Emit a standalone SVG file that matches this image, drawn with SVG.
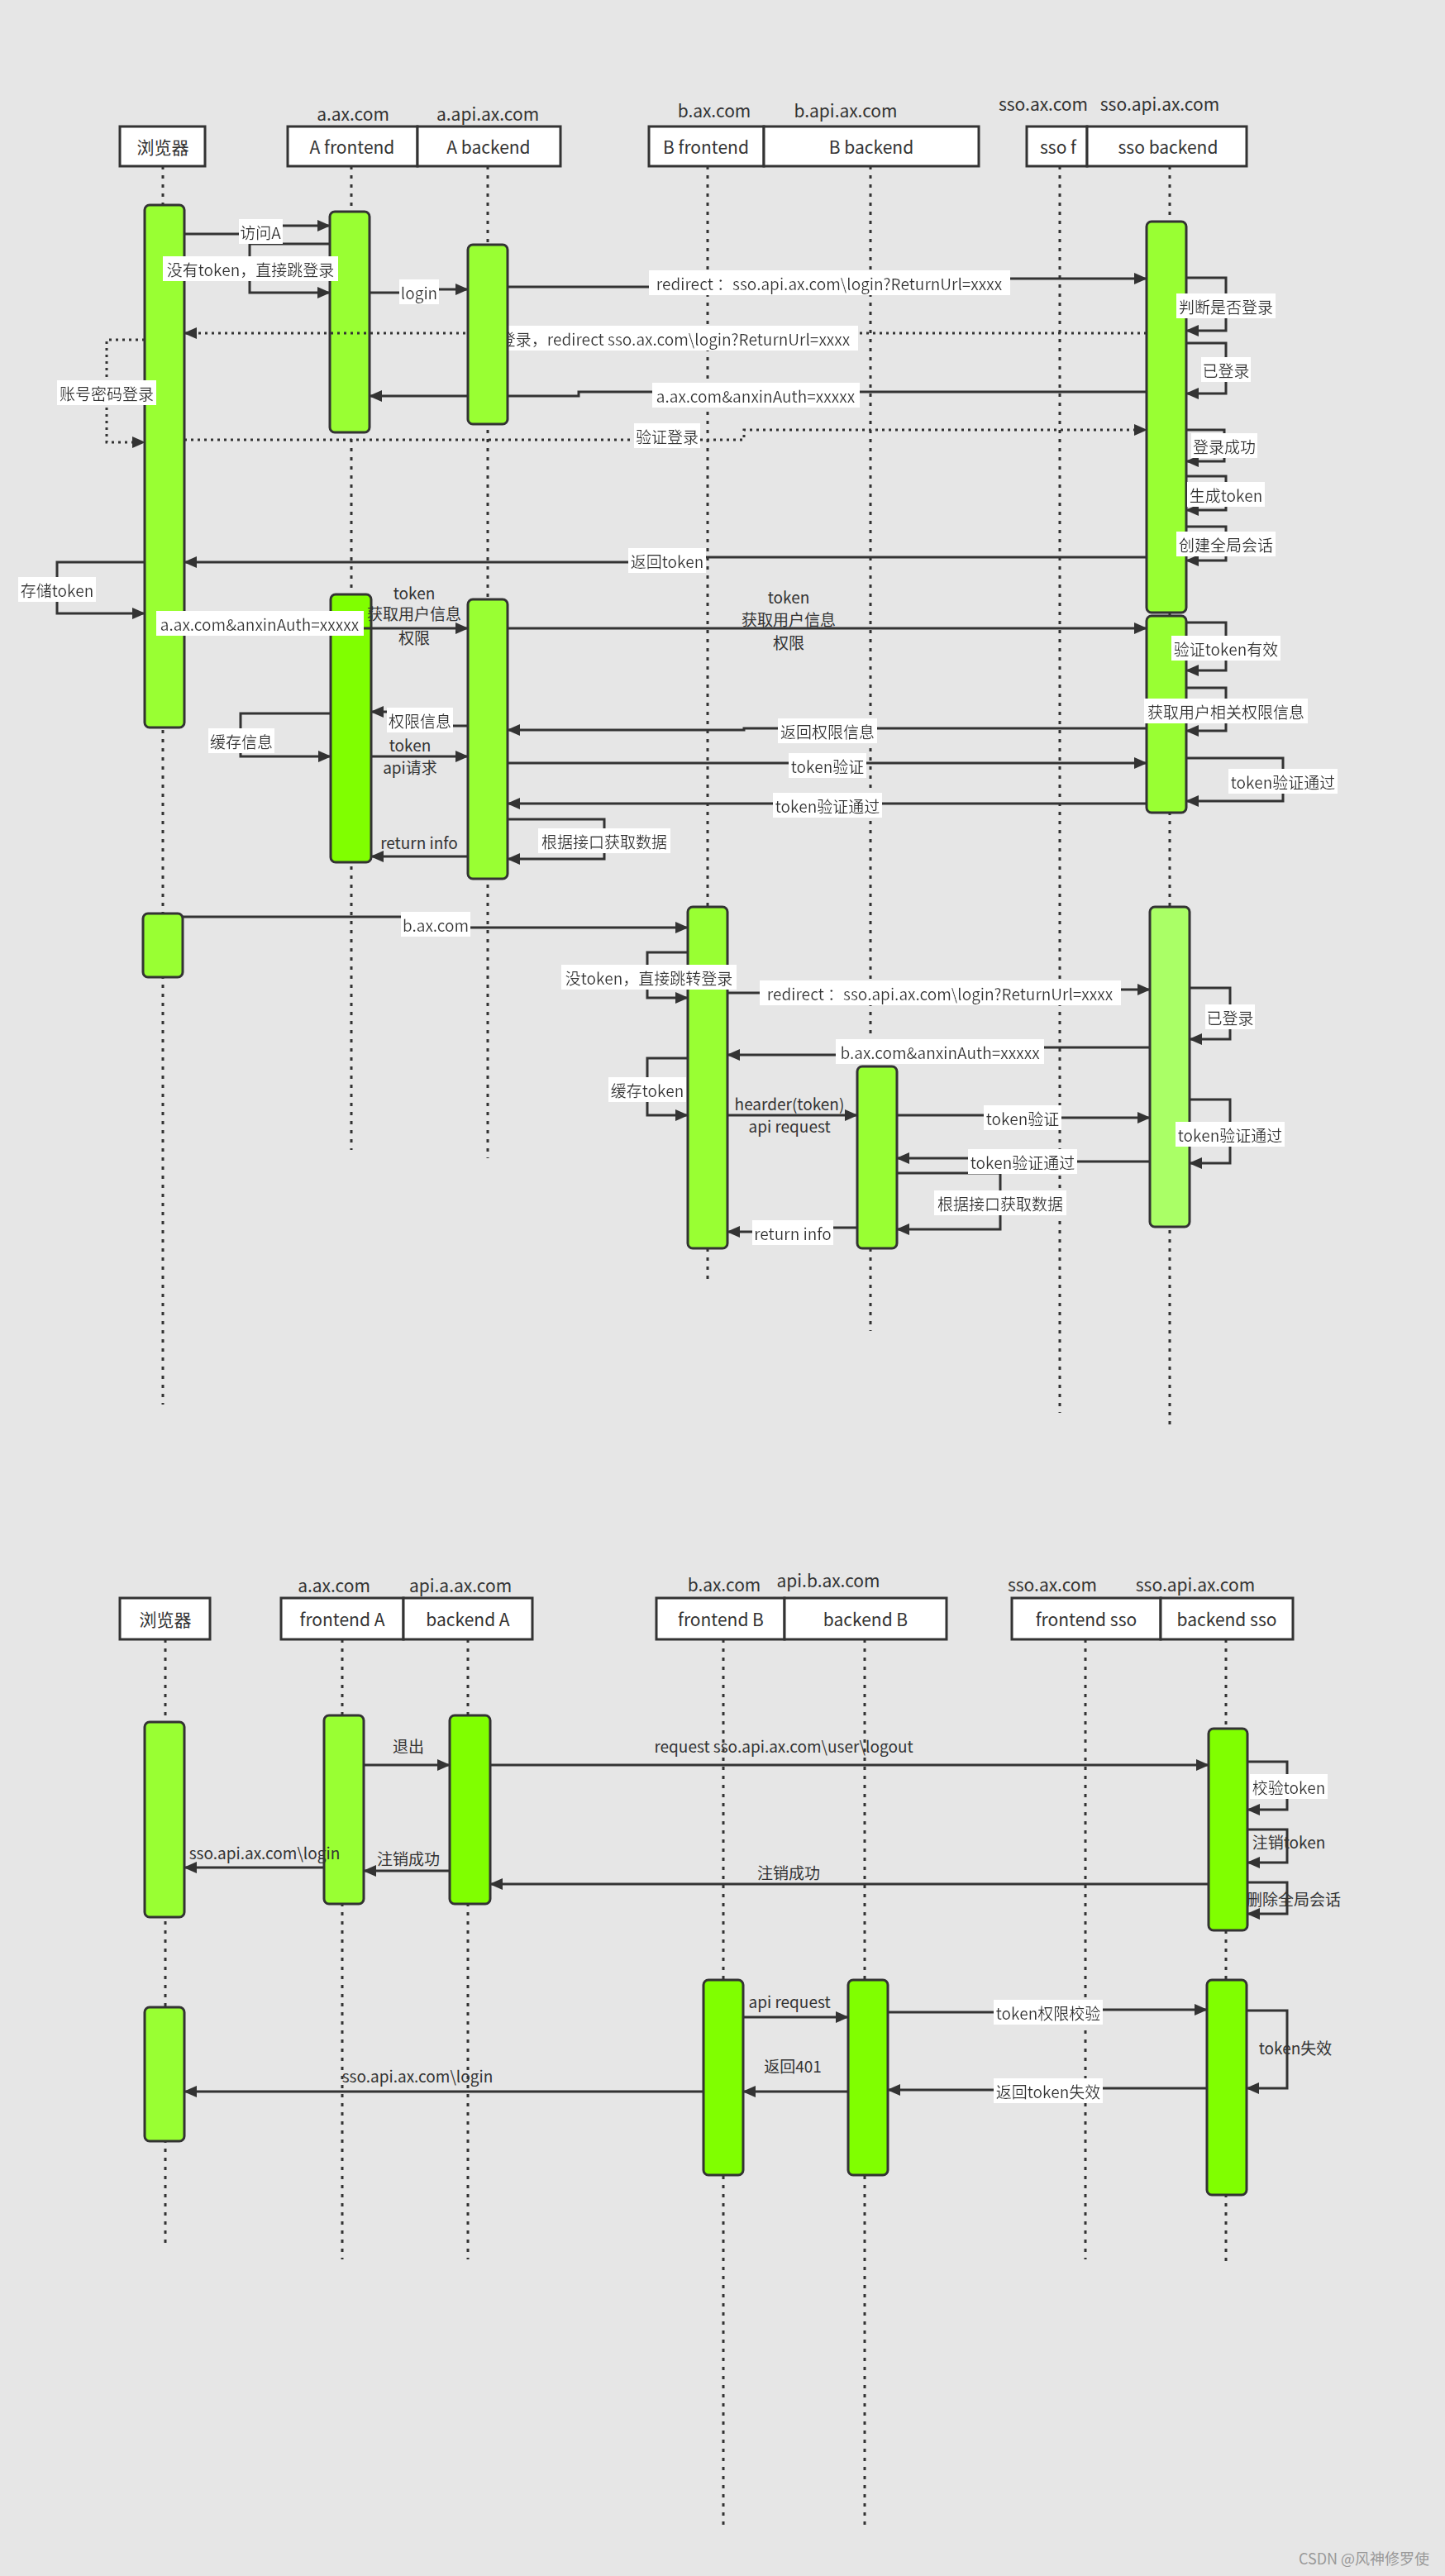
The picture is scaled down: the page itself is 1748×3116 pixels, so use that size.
<svg xmlns="http://www.w3.org/2000/svg" width="1748" height="3116" viewBox="0 0 1748 3116">
<defs>
<marker id="ar" viewBox="0 0 16 14" refX="15" refY="7" markerWidth="16" markerHeight="14" markerUnits="userSpaceOnUse" orient="auto"><path d="M0,0 L16,7 L0,14 z" fill="#333"/></marker>
<filter id="bg" x="-0.02" y="-0.05" width="1.04" height="1.1"><feFlood flood-color="#fff"/><feComposite in="SourceGraphic"/></filter>
</defs>
<style>
text{font-family:"Noto Sans CJK SC","Liberation Sans",sans-serif;fill:#333;text-anchor:middle;dominant-baseline:central}
.hd{font-size:21px}
.lb{font-size:19px}
.w{filter:url(#bg)}
.box{fill:#fff;stroke:#333;stroke-width:3}
.life{stroke:#333;stroke-width:3;stroke-dasharray:4 7;fill:none}
.act{fill:#99ff33;stroke:#333;stroke-width:3}
.act2{fill:#80ff00;stroke:#333;stroke-width:3}
.act3{fill:#aaff66;stroke:#333;stroke-width:3}
.m{stroke:#333;stroke-width:3;fill:none;marker-end:url(#ar)}
.d{stroke:#333;stroke-width:3;fill:none;stroke-dasharray:3 5;marker-end:url(#ar)}
</style>
<rect width="1748" height="3116" fill="#e6e6e6"/>

<!-- ===== TOP DIAGRAM ===== -->
<g id="lifelines-top">
<line class="life" x1="197" y1="201" x2="197" y2="1699"/>
<line class="life" x1="425" y1="201" x2="425" y2="1391"/>
<line class="life" x1="590" y1="201" x2="590" y2="1401"/>
<line class="life" x1="856" y1="201" x2="856" y2="1550"/>
<line class="life" x1="1053" y1="201" x2="1053" y2="1610"/>
<line class="life" x1="1282" y1="201" x2="1282" y2="1709"/>
<line class="life" x1="1415" y1="201" x2="1415" y2="1729"/>
</g>
<g id="head-browser"><rect class="box" x="145" y="153" width="103" height="48"/><text class="hd" x="197" y="177">浏览器</text></g>
<g id="head-a"><text class="hd" x="427" y="137">a.ax.com</text><text class="hd" x="590" y="137">a.api.ax.com</text>
<rect class="box" x="348" y="153" width="157" height="48"/><text class="hd" x="426" y="177">A frontend</text>
<rect class="box" x="505" y="153" width="173" height="48"/><text class="hd" x="591" y="177">A backend</text></g>
<g id="head-b"><text class="hd" x="864" y="133">b.ax.com</text><text class="hd" x="1023" y="133">b.api.ax.com</text>
<rect class="box" x="785" y="153" width="139" height="48"/><text class="hd" x="854" y="177">B frontend</text>
<rect class="box" x="924" y="153" width="260" height="48"/><text class="hd" x="1054" y="177">B backend</text></g>
<g id="head-sso"><text class="hd" x="1262" y="125">sso.ax.com</text><text class="hd" x="1403" y="125">sso.api.ax.com</text>
<rect class="box" x="1242" y="153" width="73" height="48"/><text class="hd" x="1280" y="177">sso f</text>
<rect class="box" x="1315" y="153" width="193" height="48"/><text class="hd" x="1413" y="177">sso backend</text></g>

<g id="acts-top">
<rect class="act" x="175" y="248" width="48" height="632" rx="6"/>
<rect class="act" x="399" y="256" width="48" height="267" rx="6"/>
<rect class="act" x="1387" y="268" width="48" height="473" rx="6"/>
<rect class="act2" x="400" y="719" width="49" height="324" rx="6"/>
<rect class="act" x="566" y="725" width="48" height="338" rx="6"/>
<rect class="act" x="1387" y="745" width="48" height="238" rx="6"/>
<rect class="act" x="173" y="1105" width="48" height="77" rx="6"/>
<rect class="act" x="832" y="1097" width="48" height="413" rx="6"/>
<rect class="act" x="1037" y="1290" width="48" height="220" rx="6"/>
<rect class="act3" x="1391" y="1097" width="48" height="387" rx="6"/>
</g>

<g id="connectors-top">
<path class="m" d="M223,283 H300 V273 H399"/>
<path class="m" d="M399,295 H302 V354 H399"/>
<path class="m" d="M447,354 H520 V350 H566"/>
<path class="m" d="M614,347 H900 V337 H1387"/>
<path class="d" d="M1387,403 H223"/>
<path class="d" d="M175,411 H129 V535 H175"/>
<path class="m" d="M1387,474 H700 V479 H447"/>
<path class="d" d="M223,532 H900 V520 H1387"/>
<path class="m" d="M1435,336 H1483 V400 H1435"/>
<path class="m" d="M1435,415 H1483 V476 H1435"/>
<path class="m" d="M1435,520 H1481 V558 H1435"/>
<path class="m" d="M1435,576 H1483 V617 H1435"/>
<path class="m" d="M1435,637 H1483 V678 H1435"/>
<path class="m" d="M1387,674 H800 V680 H223"/>
<path class="m" d="M175,680 H69 V742 H175"/>
<path class="m" d="M223,760 H566"/>
<path class="m" d="M614,760 H1387"/>
<path class="m" d="M1435,753 H1483 V811 H1435"/>
<path class="m" d="M1435,832 H1483 V884 H1435"/>
<path class="m" d="M1387,881 H900 V883 H614"/>
<path class="m" d="M566,878 H520 V861 H449"/>
<path class="m" d="M400,863 H291 V915 H400"/>
<path class="m" d="M449,915 H566"/>
<path class="m" d="M614,923 H1387"/>
<path class="m" d="M1435,917 H1552 V969 H1435"/>
<path class="m" d="M1387,972 H614"/>
<path class="m" d="M614,991 H731 V1039 H614"/>
<path class="m" d="M566,1036 H449"/>
<path class="m" d="M221,1109 H527 V1122 H832"/>
<path class="m" d="M832,1152 H783 V1207 H832"/>
<path class="m" d="M880,1201 H1137 V1197 H1391"/>
<path class="m" d="M1439,1195 H1488 V1257 H1439"/>
<path class="m" d="M1391,1267 H1137 V1276 H880"/>
<path class="m" d="M832,1280 H783 V1349 H832"/>
<path class="m" d="M880,1349 H1037"/>
<path class="m" d="M1085,1349 H1237 V1352 H1391"/>
<path class="m" d="M1439,1330 H1488 V1407 H1439"/>
<path class="m" d="M1391,1405 H1237 V1401 H1085"/>
<path class="m" d="M1085,1419 H1210 V1487 H1085"/>
<path class="m" d="M1037,1485 H959 V1490 H880"/>
</g>

<g id="labels-top">
<text class="lb w" x="315" y="280">访问A</text>
<text class="lb w" x="303" y="325">没有token，直接跳登录</text>
<text class="lb w" x="507" y="353">login</text>
<text class="lb w" x="1003" y="342">redirect ：sso.api.ax.com\login?ReturnUrl=xxxx</text>
<text class="lb w" x="807" y="409">未登录，redirect sso.ax.com\login?ReturnUrl=xxxx</text>
<text class="lb w" x="129" y="475">账号密码登录</text>
<text class="lb w" x="914" y="478">a.ax.com&amp;anxinAuth=xxxxx</text>
<text class="lb w" x="807" y="527">验证登录</text>
<text class="lb w" x="1483" y="370">判断是否登录</text>
<text class="lb w" x="1483" y="447">已登录</text>
<text class="lb w" x="1481" y="539">登录成功</text>
<text class="lb w" x="1483" y="598">生成token</text>
<text class="lb w" x="1483" y="658">创建全局会话</text>
<text class="lb w" x="807" y="678">返回token</text>
<text class="lb w" x="69" y="713">存储token</text>
<text class="lb" x="501" y="716">token</text>
<text class="lb" x="501" y="741">获取用户信息</text>
<text class="lb" x="501" y="770">权限</text>
<text class="lb w" x="314" y="754">a.ax.com&amp;anxinAuth=xxxxx</text>
<text class="lb" x="954" y="721">token</text>
<text class="lb" x="954" y="748">获取用户信息</text>
<text class="lb" x="954" y="776">权限</text>
<text class="lb w" x="1483" y="784">验证token有效</text>
<text class="lb w" x="1483" y="860">获取用户相关权限信息</text>
<text class="lb w" x="1001" y="884">返回权限信息</text>
<text class="lb w" x="508" y="871">权限信息</text>
<text class="lb w" x="292" y="896">缓存信息</text>
<text class="lb" x="496" y="900">token</text>
<text class="lb" x="496" y="927">api请求</text>
<text class="lb w" x="1001" y="926">token验证</text>
<text class="lb w" x="1552" y="945">token验证通过</text>
<text class="lb w" x="1001" y="974">token验证通过</text>
<text class="lb w" x="731" y="1017">根据接口获取数据</text>
<text class="lb" x="507" y="1018">return info</text>
<text class="lb w" x="527" y="1118">b.ax.com</text>
<text class="lb w" x="785" y="1182">没token，直接跳转登录</text>
<text class="lb w" x="1137" y="1201">redirect ：sso.api.ax.com\login?ReturnUrl=xxxx</text>
<text class="lb w" x="1488" y="1230">已登录</text>
<text class="lb w" x="1137" y="1272">b.ax.com&amp;anxinAuth=xxxxx</text>
<text class="lb w" x="783" y="1318">缓存token</text>
<text class="lb" x="955" y="1334">hearder(token)</text>
<text class="lb" x="955" y="1361">api request</text>
<text class="lb w" x="1237" y="1352">token验证</text>
<text class="lb w" x="1488" y="1372">token验证通过</text>
<text class="lb w" x="1237" y="1405">token验证通过</text>
<text class="lb w" x="1210" y="1455">根据接口获取数据</text>
<text class="lb w" x="959" y="1491">return info</text>
</g>
<g id="act-abackend-1"><rect class="act" x="566" y="296" width="48" height="217" rx="6"/></g>

<!-- ===== BOTTOM DIAGRAM ===== -->
<g id="lifelines-bottom">
<line class="life" x1="200" y1="1983" x2="200" y2="2718"/>
<line class="life" x1="414" y1="1983" x2="414" y2="2733"/>
<line class="life" x1="566" y1="1983" x2="566" y2="2733"/>
<line class="life" x1="875" y1="1983" x2="875" y2="3060"/>
<line class="life" x1="1046" y1="1983" x2="1046" y2="3060"/>
<line class="life" x1="1313" y1="1983" x2="1313" y2="2733"/>
<line class="life" x1="1483" y1="1983" x2="1483" y2="2741"/>
</g>
<g id="head2-browser"><rect class="box" x="145" y="1933" width="109" height="50"/><text class="hd" x="200" y="1958">浏览器</text></g>
<g id="head2-a"><text class="hd" x="404" y="1917">a.ax.com</text><text class="hd" x="557" y="1917">api.a.ax.com</text>
<rect class="box" x="340" y="1933" width="148" height="50"/><text class="hd" x="414" y="1958">frontend A</text>
<rect class="box" x="488" y="1933" width="156" height="50"/><text class="hd" x="566" y="1958">backend A</text></g>
<g id="head2-b"><text class="hd" x="876" y="1916">b.ax.com</text><text class="hd" x="1002" y="1911">api.b.ax.com</text>
<rect class="box" x="794" y="1933" width="155" height="50"/><text class="hd" x="872" y="1958">frontend B</text>
<rect class="box" x="949" y="1933" width="196" height="50"/><text class="hd" x="1047" y="1958">backend B</text></g>
<g id="head2-sso"><text class="hd" x="1273" y="1916">sso.ax.com</text><text class="hd" x="1446" y="1916">sso.api.ax.com</text>
<rect class="box" x="1224" y="1933" width="180" height="50"/><text class="hd" x="1314" y="1958">frontend sso</text>
<rect class="box" x="1404" y="1933" width="160" height="50"/><text class="hd" x="1484" y="1958">backend sso</text></g>

<g id="acts-bottom">
<rect class="act" x="175" y="2083" width="48" height="236" rx="6"/>
<rect class="act" x="392" y="2075" width="48" height="228" rx="6"/>
<rect class="act2" x="544" y="2075" width="49" height="228" rx="6"/>
<rect class="act2" x="1462" y="2091" width="47" height="244" rx="6"/>
<rect class="act" x="175" y="2428" width="48" height="162" rx="6"/>
<rect class="act2" x="851" y="2395" width="48" height="236" rx="6"/>
<rect class="act2" x="1026" y="2395" width="48" height="236" rx="6"/>
<rect class="act2" x="1460" y="2395" width="48" height="260" rx="6"/>
</g>

<g id="connectors-bottom">
<path class="m" d="M440,2135 H544"/>
<path class="m" d="M593,2135 H1462"/>
<path class="m" d="M1509,2131 H1557 V2189 H1509"/>
<path class="m" d="M1509,2213 H1557 V2253 H1509"/>
<path class="m" d="M1509,2277 H1557 V2315 H1509"/>
<path class="m" d="M1462,2279 H593"/>
<path class="m" d="M544,2263 H440"/>
<path class="m" d="M392,2259 H223"/>
<path class="m" d="M899,2440 H1026"/>
<path class="m" d="M1074,2434 H1260 V2431 H1460"/>
<path class="m" d="M1508,2432 H1557 V2526 H1508"/>
<path class="m" d="M1460,2526 H1260 V2528 H1074"/>
<path class="m" d="M1026,2530 H899"/>
<path class="m" d="M851,2530 H223"/>
</g>

<g id="labels-bottom">
<text class="lb" x="494" y="2111">退出</text>
<text class="lb" x="948" y="2111">request  sso.api.ax.com\user\logout</text>
<text class="lb w" x="1559" y="2161">校验token</text>
<text class="lb" x="1559" y="2227">注销token</text>
<text class="lb" x="1565" y="2296">删除全局会话</text>
<text class="lb" x="954" y="2264">注销成功</text>
<text class="lb" x="494" y="2247">注销成功</text>
<text class="lb" x="320" y="2240">sso.api.ax.com\login</text>
<text class="lb" x="955" y="2420">api request</text>
<text class="lb w" x="1268" y="2434">token权限校验</text>
<text class="lb" x="1567" y="2476">token失效</text>
<text class="lb w" x="1268" y="2529">返回token失效</text>
<text class="lb" x="959" y="2498">返回401</text>
<text class="lb" x="505" y="2510">sso.api.ax.com\login</text>
</g>
<text x="1650" y="3094" style="font-size:18px;fill:#999">CSDN @风神修罗使</text>
</svg>
